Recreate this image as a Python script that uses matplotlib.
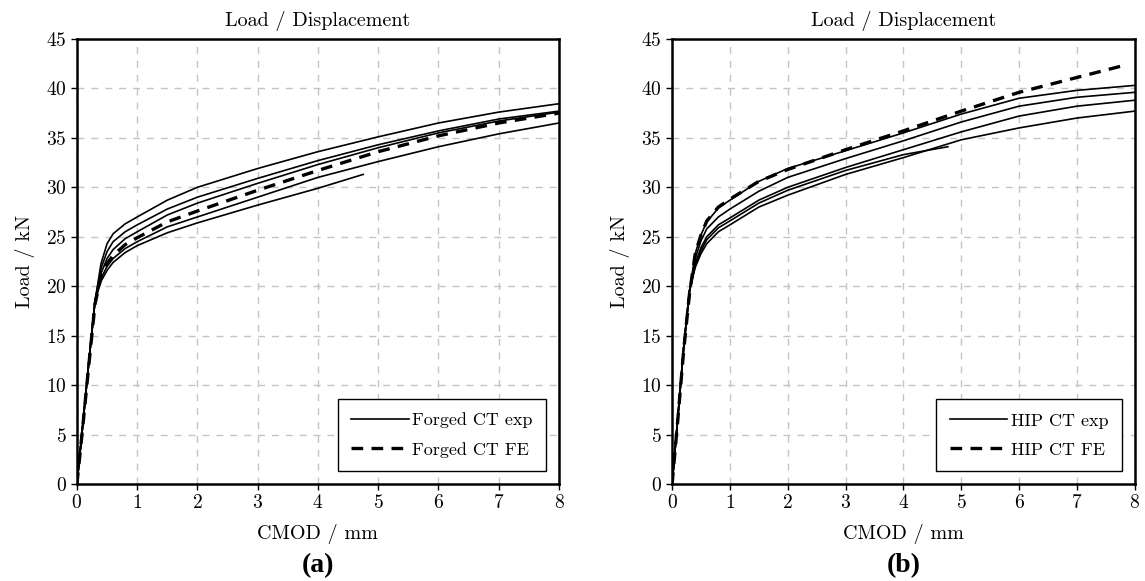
import numpy as np
import matplotlib.pyplot as plt

plt.rcParams['font.family'] = ['cmr10', 'DejaVu Serif']
plt.rcParams['axes.formatter.use_mathtext'] = True

# common start of the elastic part (all curves share it)
x_start = [0, 0.1, 0.2, 0.3]

# (a) forged CT, experiments
forged_x = [0.4, 0.5, 0.6, 0.8, 1, 1.5, 2, 3, 4, 5, 6, 7, 8]
forged_exp = [
    [0, 6.2, 12.5, 18.5, 22.3, 24.3, 25.3, 26.3, 27.0, 28.7, 30.0, 31.9, 33.6, 35.1, 36.5, 37.6, 38.45],
    [0, 6.2, 12.5, 18.5, 21.8, 23.5, 24.5, 25.5, 26.2, 27.8, 29.0, 30.9, 32.7, 34.3, 35.7, 36.9, 37.7],
    [0, 6.2, 12.5, 18.5, 21.3, 22.8, 23.7, 24.8, 25.5, 27.2, 28.4, 30.4, 32.3, 34.0, 35.5, 36.7, 37.6],
    [0, 6.2, 12.5, 18.5, 20.8, 22.0, 22.8, 23.8, 24.5, 26.0, 27.0, 29.0, 31.0, 32.6, 34.1, 35.4, 36.5],
]
# short forged test, stops at 4.75 mm
forged_short_x = [0.4, 0.5, 0.6, 0.8, 1, 1.5, 2, 3, 4, 4.75]
forged_short = [0, 6.2, 12.5, 18.5, 20.5, 21.6, 22.4, 23.4, 24.1, 25.4, 26.4, 28.2, 29.9, 31.3]
forged_fe = [0, 6.0, 12.2, 18.2, 21.0, 22.3, 23.1, 24.2, 24.9, 26.5, 27.6, 29.7, 31.7, 33.6, 35.2, 36.5, 37.5]

# (b) HIP CT
hip_x = [0.4, 0.5, 0.6, 0.8, 1, 1.5, 2, 3, 4, 5, 6, 7, 8]
hip_exp = [
    [0, 6.8, 13.8, 19.5, 23.3, 25.2, 26.5, 27.9, 28.7, 30.6, 31.9, 33.7, 35.5, 37.4, 39.0, 39.8, 40.3],
    [0, 6.8, 13.8, 19.5, 22.8, 24.6, 25.8, 27.0, 27.8, 29.6, 31.0, 32.9, 34.7, 36.6, 38.2, 39.1, 39.6],
    [0, 6.8, 13.8, 19.5, 22.3, 23.9, 25.0, 26.2, 26.9, 28.7, 30.0, 32.0, 33.8, 35.6, 37.2, 38.2, 38.8],
    [0, 6.8, 13.8, 19.5, 21.9, 23.3, 24.3, 25.5, 26.2, 28.0, 29.2, 31.3, 33.0, 34.8, 36.0, 37.0, 37.7],
]
hip_short_x = [0.4, 0.5, 0.6, 0.8, 1, 1.5, 2, 3, 4, 4.77]
hip_short = [0, 6.8, 13.8, 19.5, 22.1, 23.6, 24.7, 25.9, 26.6, 28.4, 29.7, 31.7, 33.3, 34.1]
hip_fe_x = [0.4, 0.5, 0.6, 0.8, 1, 1.5, 2, 3, 4, 5, 6, 7, 7.8]
hip_fe = [0, 6.6, 13.5, 19.2, 23.3, 25.2, 26.6, 28.0, 28.8, 30.6, 31.8, 33.8, 35.7, 37.7, 39.6, 41.1, 42.3]

fig = plt.figure(figsize=(11.45, 5.81), dpi=100)
ax1 = fig.add_axes([0.0672, 0.167, 0.421, 0.766])
ax2 = fig.add_axes([0.587, 0.167, 0.404, 0.766])


def draw(ax, xs, exps, sx, sy, fx, fy, lab, tag):
    for i, ys in enumerate(exps):
        ax.plot(x_start + xs, ys, color='black', lw=1.2,
                label=lab + ' exp' if i == 0 else None)
    ax.plot(x_start + sx, sy, color='black', lw=1.2)
    ax.plot(x_start + fx, fy, color='black', lw=2.4, ls=(0, (3.5, 2.5)),
            label=lab + ' FE')
    ax.set_xlim(0, 8)
    ax.set_ylim(0, 45)
    ax.set_xticks(range(0, 9))
    ax.set_yticks(range(0, 46, 5))
    ax.grid(True, color='#c4c4c4', ls=(0, (5, 5)), lw=1.0)
    ax.set_axisbelow(True)
    for s in ax.spines.values():
        s.set_linewidth(1.8)
    ax.tick_params(labelsize=14, length=4, width=1)
    ax.set_title('Load / Displacement', fontsize=14.5, pad=9)
    ax.set_xlabel('CMOD / mm', fontsize=14.5, labelpad=8)
    ax.set_ylabel('Load / kN', fontsize=14.5, labelpad=8)
    leg = ax.legend(loc='lower right', fontsize=13, fancybox=False,
                    edgecolor='black', framealpha=1, handlelength=3.2,
                    borderpad=0.75, labelspacing=0.75, handletextpad=0.2,
                    borderaxespad=0.7)
    leg.get_frame().set_linewidth(1.0)
    ax.text(0.5, -0.184, tag, transform=ax.transAxes, ha='center', va='center',
            fontsize=20, fontweight='bold', family='Liberation Serif')


draw(ax1, forged_x, forged_exp, forged_short_x, forged_short,
     forged_x, forged_fe, 'Forged CT', '(a)')
draw(ax2, hip_x, hip_exp, hip_short_x, hip_short,
     hip_fe_x, hip_fe, 'HIP CT', '(b)')

fig.savefig('out.png', dpi=100)
